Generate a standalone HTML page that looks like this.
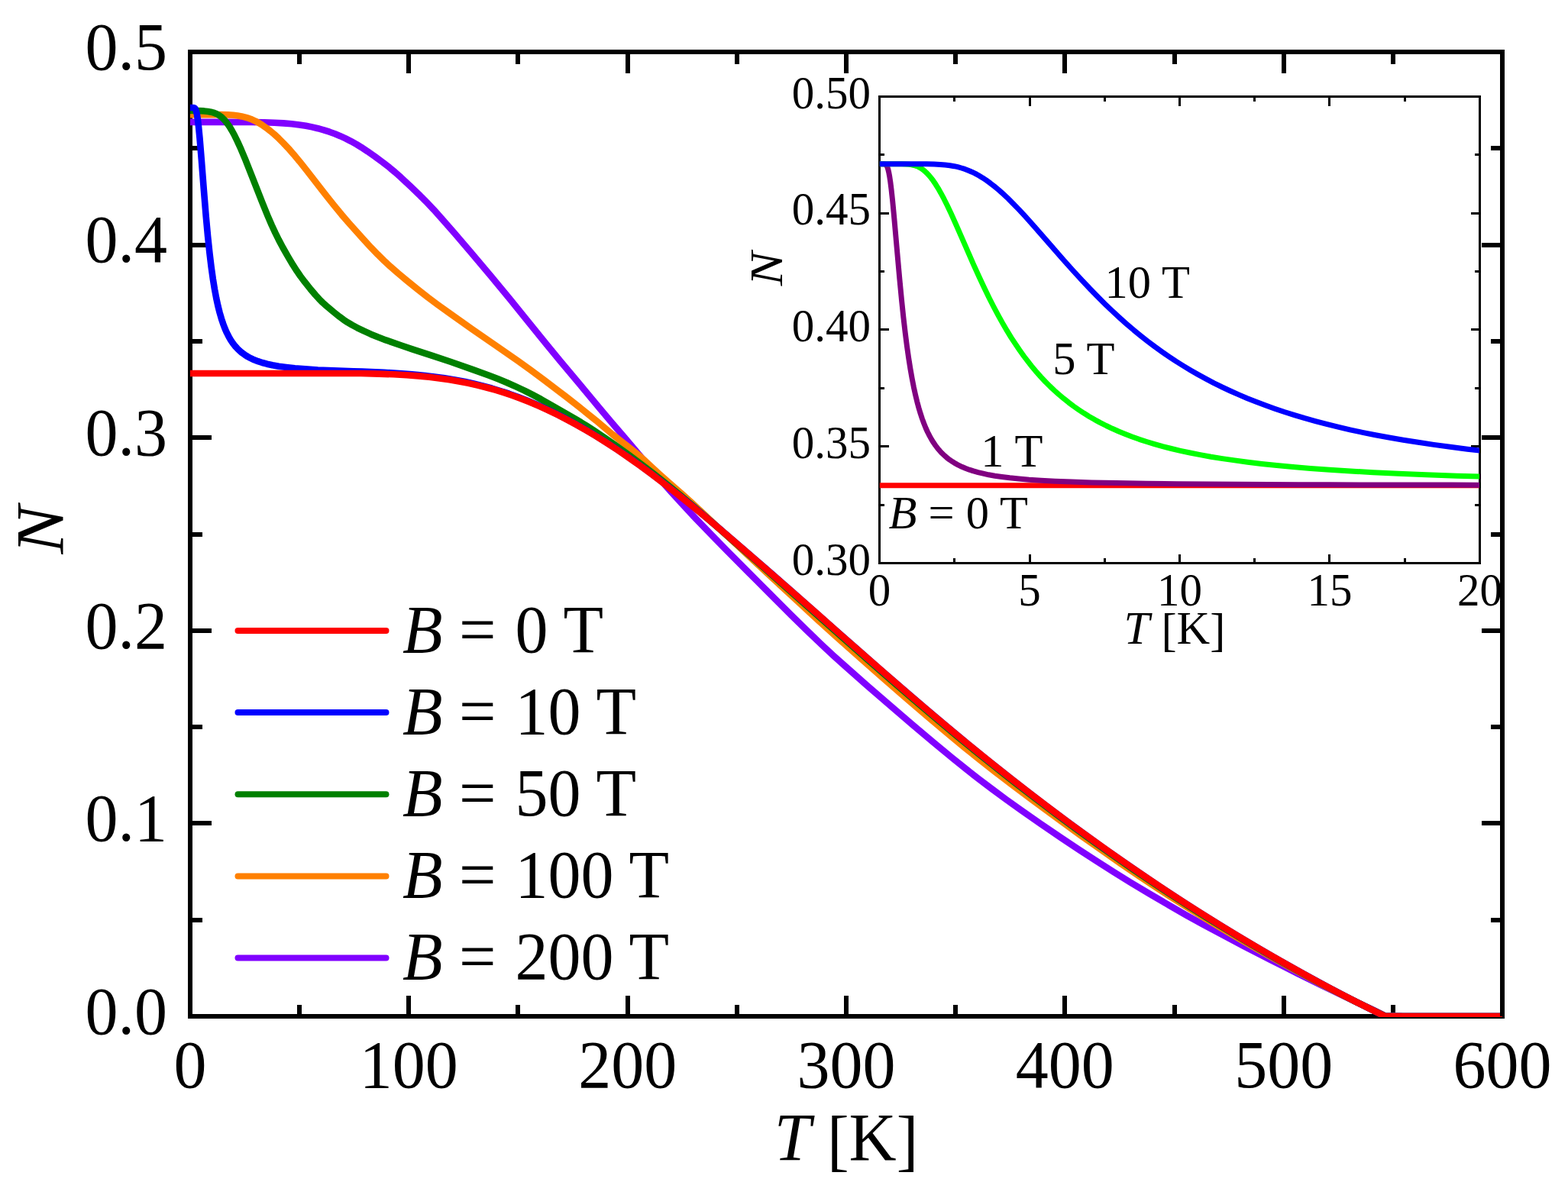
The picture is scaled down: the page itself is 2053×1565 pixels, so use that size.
<!DOCTYPE html>
<html lang="en"><head><meta charset="utf-8"><title>N versus T for several magnetic fields B</title>
<style>html,body{margin:0;padding:0;background:#fff}body{width:2053px;height:1565px;overflow:hidden}svg{display:block}text{font-family:"Liberation Serif",serif;fill:#000}.i{font-style:italic}</style></head><body>
<svg width="2053" height="1565" viewBox="0 0 2053 1565">
<rect width="2053" height="1565" fill="#fff"/>
<defs><clipPath id="cm"><rect x="249" y="60" width="1719" height="1272"/></clipPath><clipPath id="ci"><rect x="1151.5" y="120" width="785.5" height="618"/></clipPath></defs>
<g stroke="#000" stroke-width="6" fill="none" shape-rendering="crispEdges">
<rect x="249" y="68" width="1718" height="1263"/>
</g>
<g stroke="#000" stroke-width="6" fill="none" shape-rendering="crispEdges">
<path d="M392 1331 V1315.5 M392 68 V83.5"/>
<path d="M535 1331 V1303.5 M535 68 V95.5"/>
<path d="M678 1331 V1315.5 M678 68 V83.5"/>
<path d="M822 1331 V1303.5 M822 68 V95.5"/>
<path d="M965 1331 V1315.5 M965 68 V83.5"/>
<path d="M1108 1331 V1303.5 M1108 68 V95.5"/>
<path d="M1251 1331 V1315.5 M1251 68 V83.5"/>
<path d="M1394 1331 V1303.5 M1394 68 V95.5"/>
<path d="M1538 1331 V1315.5 M1538 68 V83.5"/>
<path d="M1681 1331 V1303.5 M1681 68 V95.5"/>
<path d="M1824 1331 V1315.5 M1824 68 V83.5"/>
<path d="M249 1205 H264.5 M1967 1205 H1951.5"/>
<path d="M249 1078 H276.5 M1967 1078 H1939.5"/>
<path d="M249 952 H264.5 M1967 952 H1951.5"/>
<path d="M249 826 H276.5 M1967 826 H1939.5"/>
<path d="M249 700 H264.5 M1967 700 H1951.5"/>
<path d="M249 573 H276.5 M1967 573 H1939.5"/>
<path d="M249 447 H264.5 M1967 447 H1951.5"/>
<path d="M249 321 H276.5 M1967 321 H1939.5"/>
<path d="M249 194 H264.5 M1967 194 H1951.5"/>
</g>
<polyline clip-path="url(#cm)" fill="none" stroke="#8000ff" stroke-width="8.6" stroke-linejoin="round" points="249.0,159.9 288.9,159.9 328.8,160.0 346.0,160.2 359.3,160.7 371.2,161.4 382.0,162.3 391.8,163.5 400.5,164.8 408.5,166.4 416.3,168.2 424.0,170.3 431.4,172.7 438.5,175.3 445.5,178.2 452.5,181.4 459.7,185.1 467.2,189.3 472.8,192.7 481.3,198.3 490.9,205.0 501.2,212.6 509.7,219.2 517.1,225.4 524.9,232.3 537.3,243.9 550.3,256.4 559.1,265.3 568.0,274.7 579.3,287.3 595.2,305.5 617.0,331.0 642.7,361.6 667.5,391.6 689.7,419.0 714.8,450.0 733.9,473.2 759.5,503.8 785.0,534.5 799.1,551.2 818.0,573.4 843.8,603.9 864.6,628.1 878.7,644.2 891.9,658.7 909.2,677.2 930.9,699.8 951.4,720.8 979.6,749.1 1007.8,777.4 1036.0,805.6 1057.2,826.4 1075.0,843.5 1090.9,858.3 1107.0,872.8 1135.2,897.7 1165.3,923.8 1195.5,949.7 1223.1,973.0 1247.3,993.0 1264.9,1007.2 1281.4,1020.1 1298.8,1033.3 1317.5,1047.1 1338.0,1061.7 1361.6,1078.2 1390.4,1097.9 1413.3,1113.2 1434.9,1127.2 1457.2,1141.4 1480.5,1155.8 1505.0,1170.5 1530.6,1185.5 1553.1,1198.4 1575.3,1210.7 1599.7,1223.8 1627.8,1238.6 1663.3,1256.8 1698.9,1274.8 1730.9,1290.6 1763.5,1306.4 1799.6,1323.4 1811.7,1329.4 1813.5,1330.3 1835.4,1330.9 1856.5,1331.0 1896.4,1331.0 1936.4,1331.0 1967.0,1331.0"/>
<polyline clip-path="url(#cm)" fill="none" stroke="#ff8000" stroke-width="8.6" stroke-linejoin="round" points="249.0,150.1 288.9,150.1 298.4,150.4 305.3,150.8 311.1,151.5 316.4,152.4 321.2,153.6 325.7,154.9 330.0,156.6 334.4,158.6 338.9,161.0 343.6,163.9 348.6,167.4 353.9,171.5 359.3,176.0 364.9,181.2 370.9,187.2 377.5,194.2 384.6,202.3 392.2,211.4 401.7,223.4 424.4,252.7 437.5,269.2 447.3,281.1 457.6,293.0 476.3,313.9 485.9,324.3 494.5,333.2 502.8,341.3 511.4,349.3 521.1,357.8 533.2,367.9 547.1,379.1 560.5,389.6 573.2,399.1 589.1,410.5 618.7,431.5 650.2,453.2 678.3,472.7 694.3,484.3 711.8,497.3 741.1,519.5 756.6,531.7 780.5,550.8 791.4,560.0 802.1,569.0 811.1,576.1 827.1,588.6 835.1,595.1 842.3,601.4 853.0,611.4 863.3,620.9 874.1,630.5 892.5,646.4 906.0,658.6 923.9,675.3 953.0,702.7 982.2,729.8 1011.4,757.0 1040.7,784.2 1070.1,811.3 1095.5,834.3 1125.3,860.8 1155.3,887.2 1185.4,913.4 1215.4,939.2 1242.1,961.7 1263.1,979.1 1282.7,994.9 1303.6,1011.3 1326.5,1028.9 1352.5,1048.4 1384.7,1072.1 1415.1,1094.2 1441.8,1113.1 1467.3,1130.9 1491.9,1147.6 1515.6,1163.4 1538.4,1178.2 1560.7,1192.2 1583.6,1206.3 1607.4,1220.6 1632.3,1235.1 1658.5,1250.0 1686.0,1265.3 1712.3,1279.5 1737.1,1292.6 1760.2,1304.5 1780.9,1314.7 1811.7,1329.7 1813.5,1330.6 1839.6,1331.0 1879.5,1331.0 1919.5,1331.0 1959.5,1331.0 1967.0,1331.0"/>
<polyline clip-path="url(#cm)" fill="none" stroke="#008000" stroke-width="8.6" stroke-linejoin="round" points="249.0,145.0 261.0,145.1 267.1,145.4 272.1,146.0 276.2,146.7 279.6,147.6 282.5,148.7 285.2,150.0 287.7,151.6 290.2,153.5 292.7,155.8 295.2,158.6 297.9,162.1 300.8,166.3 303.9,171.5 307.3,177.8 311.1,185.6 315.5,195.3 321.1,208.7 329.3,229.3 343.1,264.5 350.4,282.5 355.7,294.8 360.4,304.9 365.1,314.4 370.5,324.5 377.4,336.6 383.7,347.2 388.6,354.8 393.2,361.5 398.7,368.8 406.5,378.6 413.1,386.4 417.9,391.7 422.3,396.1 427.2,400.5 436.7,408.5 444.6,414.8 450.0,418.8 455.3,422.3 461.2,425.8 467.8,429.3 476.8,433.7 485.6,437.7 494.4,441.3 505.2,445.4 525.6,452.5 539.9,457.3 566.1,465.8 589.8,473.8 619.3,484.1 639.7,491.5 652.1,496.3 663.5,501.0 675.6,506.4 687.3,511.9 698.1,517.4 708.4,522.9 723.8,531.7 756.0,550.3 767.3,557.1 778.1,564.1 792.1,573.5 806.9,583.8 823.3,595.7 839.9,608.1 856.5,620.9 873.4,634.3 890.5,648.3 907.4,662.6 929.2,681.5 959.2,707.8 989.2,734.1 1019.1,760.5 1049.0,787.0 1078.9,813.5 1108.8,840.0 1138.8,866.4 1168.9,892.7 1199.1,918.7 1228.3,943.6 1254.8,965.7 1279.9,986.2 1305.2,1006.5 1330.7,1026.6 1356.4,1046.4 1382.4,1066.0 1408.3,1085.2 1433.8,1103.7 1459.0,1121.6 1484.0,1138.9 1508.8,1155.7 1533.4,1172.0 1556.8,1187.1 1580.3,1202.0 1604.3,1216.7 1628.8,1231.4 1653.9,1246.1 1679.6,1260.7 1704.8,1274.7 1729.6,1288.2 1754.0,1301.0 1776.6,1312.6 1805.0,1326.6 1813.5,1330.8 1839.3,1331.0 1879.2,1331.0 1919.2,1331.0 1959.2,1331.0 1967.0,1331.0"/>
<polyline clip-path="url(#cm)" fill="none" stroke="#0000ff" stroke-width="8.6" stroke-linejoin="round" points="249.0,141.0 253.4,141.0 254.3,141.3 255.0,141.7 255.7,142.6 256.3,143.8 257.0,145.9 257.8,149.5 258.8,155.7 260.0,165.5 261.5,181.0 263.8,209.0 266.8,247.9 269.7,283.4 272.1,309.5 274.4,331.3 276.6,349.5 278.8,365.2 281.0,378.7 283.2,390.5 285.4,400.6 287.6,409.4 289.9,417.3 292.2,424.2 294.6,430.5 297.0,435.9 299.5,440.8 302.1,445.3 304.8,449.3 307.6,453.0 310.5,456.2 313.6,459.3 316.9,462.1 320.4,464.6 324.2,467.0 328.3,469.2 332.8,471.3 337.8,473.2 343.4,475.0 349.7,476.7 356.8,478.2 365.0,479.7 374.7,481.0 386.1,482.3 399.7,483.4 416.2,484.5 436.7,485.4 462.9,486.2 474.1,486.6 502.8,487.8 522.6,489.0 539.5,490.3 554.7,491.7 568.8,493.4 582.3,495.3 595.3,497.4 607.9,499.8 620.1,502.5 632.0,505.4 643.7,508.5 655.1,512.0 666.4,515.7 677.8,519.8 689.4,524.3 701.2,529.2 713.2,534.6 725.4,540.4 737.8,546.7 750.4,553.4 763.2,560.6 776.3,568.3 789.7,576.6 803.3,585.4 817.2,594.8 831.7,604.9 846.9,616.0 863.0,628.1 880.1,641.4 898.6,656.2 919.0,672.9 942.3,692.5 971.3,717.4 1001.4,743.5 1031.4,769.8 1061.3,796.2 1091.2,822.6 1121.1,849.0 1151.1,875.4 1181.2,901.6 1211.5,927.6 1239.6,951.4 1265.5,972.9 1291.2,993.8 1316.8,1014.2 1342.3,1034.2 1367.7,1053.6 1393.1,1072.7 1418.4,1091.3 1443.6,1109.4 1468.7,1127.1 1493.8,1144.3 1518.8,1161.2 1543.7,1177.5 1568.6,1193.5 1593.5,1209.1 1618.4,1224.4 1643.3,1239.2 1668.2,1253.7 1693.1,1267.8 1718.0,1281.6 1742.9,1295.0 1767.8,1308.0 1792.7,1320.7 1813.5,1331.0 1853.4,1331.0 1893.4,1331.0 1933.4,1331.0 1967.0,1331.0"/>
<polyline clip-path="url(#cm)" fill="none" stroke="#ff0000" stroke-width="8.6" stroke-linejoin="round" points="249.0,489.0 289.0,489.0 329.0,489.0 369.0,489.0 409.0,489.0 449.0,489.0 472.6,489.0 496.5,489.6 515.6,490.3 532.4,491.3 547.7,492.4 561.9,493.8 575.4,495.4 588.4,497.3 601.0,499.5 613.3,501.9 625.3,504.6 637.0,507.5 648.5,510.7 659.8,514.2 671.1,518.0 682.5,522.2 694.1,526.8 705.9,531.9 717.9,537.3 730.1,543.2 742.5,549.6 755.1,556.4 768.0,563.8 781.1,571.6 794.5,580.0 808.2,589.0 822.2,598.6 836.9,609.0 852.3,620.3 868.7,632.8 886.2,646.5 905.2,661.8 926.4,679.3 951.0,700.1 981.3,726.2 1011.4,752.4 1041.4,778.8 1071.3,805.1 1101.2,831.6 1131.2,858.0 1161.2,884.3 1191.4,910.5 1221.6,936.3 1248.8,959.1 1274.6,980.4 1300.3,1001.1 1325.9,1021.4 1351.4,1041.2 1376.8,1060.5 1402.1,1079.4 1427.4,1097.8 1452.6,1115.8 1477.7,1133.3 1502.7,1150.4 1527.7,1167.1 1552.6,1183.3 1577.5,1199.1 1602.4,1214.6 1627.3,1229.7 1652.2,1244.4 1677.1,1258.8 1702.0,1272.8 1726.9,1286.4 1751.8,1299.7 1776.7,1312.6 1801.6,1325.1 1813.5,1331.0 1853.4,1331.0 1893.4,1331.0 1933.4,1331.0 1967.0,1331.0"/>
<g font-size="86">
<text transform="translate(249 1424) scale(1 1.022)" text-anchor="middle">0</text>
<text transform="translate(535.333 1424) scale(1 1.022)" text-anchor="middle">100</text>
<text transform="translate(821.667 1424) scale(1 1.022)" text-anchor="middle">200</text>
<text transform="translate(1108 1424) scale(1 1.022)" text-anchor="middle">300</text>
<text transform="translate(1394.33 1424) scale(1 1.022)" text-anchor="middle">400</text>
<text transform="translate(1680.67 1424) scale(1 1.022)" text-anchor="middle">500</text>
<text transform="translate(1967 1424) scale(1 1.022)" text-anchor="middle">600</text>
<text transform="translate(219 1353.8) scale(1 1.022)" text-anchor="end">0.0</text>
<text transform="translate(219 1101.2) scale(1 1.022)" text-anchor="end">0.1</text>
<text transform="translate(219 848.6) scale(1 1.022)" text-anchor="end">0.2</text>
<text transform="translate(219 596) scale(1 1.022)" text-anchor="end">0.3</text>
<text transform="translate(219 343.4) scale(1 1.022)" text-anchor="end">0.4</text>
<text transform="translate(219 90.8) scale(1 1.022)" text-anchor="end">0.5</text>
<text transform="translate(1108 1518.6) scale(1 1.022)" text-anchor="middle"><tspan class="i">T</tspan> <tspan dy="4">[</tspan><tspan dy="-4">K</tspan><tspan dy="4">]</tspan></text>
<text class="i" text-anchor="middle" transform="translate(81.5 694) rotate(-90) scale(1.1 1.022)">N</text>
</g>
<g stroke-width="8" stroke-linecap="round" fill="none">
<path stroke="#ff0000" d="M311.5 826.0 H505.5"/>
<path stroke="#0000ff" d="M311.5 933.1 H505.5"/>
<path stroke="#008000" d="M311.5 1040.3 H505.5"/>
<path stroke="#ff8000" d="M311.5 1147.5 H505.5"/>
<path stroke="#8000ff" d="M311.5 1254.6 H505.5"/>
</g><g font-size="86">
<text transform="translate(527 853.5) scale(1 1.022)"><tspan class="i">B</tspan> <tspan letter-spacing="3.5">=</tspan> 0 T</text>
<text transform="translate(527 960.6) scale(1 1.022)"><tspan class="i">B</tspan> <tspan letter-spacing="3.5">=</tspan> 10 T</text>
<text transform="translate(527 1067.8) scale(1 1.022)"><tspan class="i">B</tspan> <tspan letter-spacing="3.5">=</tspan> 50 T</text>
<text transform="translate(527 1175) scale(1 1.022)"><tspan class="i">B</tspan> <tspan letter-spacing="3.5">=</tspan> 100 T</text>
<text transform="translate(527 1282.1) scale(1 1.022)"><tspan class="i">B</tspan> <tspan letter-spacing="3.5">=</tspan> 200 T</text>
</g>
<g stroke="#000" stroke-width="3" fill="none" shape-rendering="crispEdges">
<rect x="1151.5" y="126.5" width="786" height="611"/>
</g>
<g stroke="#000" stroke-width="3" fill="none" shape-rendering="crispEdges">
<path d="M1249.5 737.5 V731 M1249.5 126.5 V133"/>
<path d="M1348.5 737.5 V725.5 M1348.5 126.5 V138.5"/>
<path d="M1446.5 737.5 V731 M1446.5 126.5 V133"/>
<path d="M1544.5 737.5 V725.5 M1544.5 126.5 V138.5"/>
<path d="M1642.5 737.5 V731 M1642.5 126.5 V133"/>
<path d="M1740.5 737.5 V725.5 M1740.5 126.5 V138.5"/>
<path d="M1839.5 737.5 V731 M1839.5 126.5 V133"/>
<path d="M1151.5 661.5 H1158 M1937.5 661.5 H1931"/>
<path d="M1151.5 584.5 H1163.5 M1937.5 584.5 H1925.5"/>
<path d="M1151.5 508.5 H1158 M1937.5 508.5 H1931"/>
<path d="M1151.5 431.5 H1163.5 M1937.5 431.5 H1925.5"/>
<path d="M1151.5 355.5 H1158 M1937.5 355.5 H1931"/>
<path d="M1151.5 279.5 H1163.5 M1937.5 279.5 H1925.5"/>
<path d="M1151.5 202.5 H1158 M1937.5 202.5 H1931"/>
</g>
<polyline clip-path="url(#ci)" fill="none" stroke="#ff0000" stroke-width="7" stroke-linejoin="round" points="1151.5,635.7 1191.5,635.7 1231.5,635.7 1271.5,635.7 1311.5,635.7 1351.5,635.7 1391.5,635.7 1431.5,635.7 1471.5,635.7 1511.5,635.7 1551.5,635.7 1591.5,635.7 1631.5,635.7 1671.5,635.7 1711.5,635.7 1751.5,635.7 1791.5,635.7 1831.5,635.7 1871.5,635.7 1911.5,635.7 1937.5,635.7"/>
<polyline clip-path="url(#ci)" fill="none" stroke="#800080" stroke-width="7" stroke-linejoin="round" points="1151.5,214.8 1157.3,214.8 1158.4,215.0 1159.2,215.3 1159.9,215.8 1160.6,216.6 1161.3,217.7 1162.0,219.3 1162.8,221.9 1163.7,225.6 1164.7,231.0 1165.8,238.3 1167.1,248.6 1168.7,263.5 1170.9,286.8 1174.3,325.5 1177.8,364.8 1180.5,392.9 1182.9,415.8 1185.2,435.6 1187.5,453.6 1189.7,469.0 1191.9,482.9 1194.1,495.4 1196.3,506.7 1198.5,516.7 1200.7,525.8 1202.9,534.0 1205.2,541.7 1207.5,548.6 1209.8,554.8 1212.2,560.7 1214.6,566.0 1217.1,570.9 1219.6,575.4 1222.2,579.6 1224.9,583.5 1227.7,587.2 1230.6,590.6 1233.6,593.8 1236.7,596.7 1240.0,599.6 1243.4,602.2 1247.0,604.6 1250.8,606.9 1254.9,609.2 1259.3,611.3 1264.0,613.3 1269.1,615.2 1274.6,616.9 1280.6,618.6 1287.2,620.2 1294.5,621.8 1302.6,623.2 1311.7,624.5 1322.1,625.8 1333.9,627.0 1347.4,628.2 1363.0,629.2 1381.3,630.2 1403.0,631.1 1429.2,631.9 1461.4,632.6 1501.3,633.3 1541.2,633.8 1581.1,634.1 1621.0,634.3 1660.9,634.5 1700.8,634.7 1740.7,634.8 1780.6,634.9 1820.5,635.0 1860.4,635.1 1900.3,635.1 1937.5,635.2"/>
<polyline clip-path="url(#ci)" fill="none" stroke="#00ff00" stroke-width="7" stroke-linejoin="round" points="1151.5,214.8 1180.5,214.8 1186.1,215.0 1190.2,215.3 1193.6,215.8 1196.7,216.5 1199.6,217.4 1201.4,218.0 1203.9,219.3 1206.3,220.7 1208.7,222.4 1211.2,224.5 1213.7,226.8 1216.3,229.6 1219.0,232.9 1221.9,236.7 1225.0,241.3 1228.3,246.6 1231.9,252.9 1235.8,260.2 1240.2,269.0 1245.3,279.8 1251.8,294.2 1263.7,321.4 1274.6,346.3 1282.3,363.3 1289.1,377.8 1295.4,390.7 1301.4,402.5 1307.2,413.4 1312.9,423.6 1318.5,433.2 1324.1,442.3 1329.6,450.7 1335.1,458.8 1340.6,466.5 1346.1,473.7 1351.7,480.8 1357.3,487.4 1363.0,493.8 1368.8,500.0 1374.7,505.9 1380.6,511.5 1386.7,516.9 1392.9,522.1 1399.2,527.1 1405.7,532.0 1412.3,536.6 1419.1,541.1 1426.1,545.4 1433.3,549.6 1440.7,553.6 1448.4,557.5 1456.4,561.3 1464.7,565.0 1473.3,568.5 1482.3,572.0 1491.6,575.3 1501.4,578.5 1511.6,581.6 1522.3,584.6 1533.6,587.5 1545.5,590.3 1558.1,593.0 1571.4,595.6 1585.5,598.2 1600.5,600.6 1616.5,602.9 1633.6,605.2 1651.9,607.4 1671.6,609.5 1692.8,611.5 1715.8,613.4 1740.8,615.2 1768.1,617.0 1798.0,618.7 1830.9,620.3 1867.4,621.8 1907.3,623.2 1937.5,624.1"/>
<polyline clip-path="url(#ci)" fill="none" stroke="#0000ff" stroke-width="7" stroke-linejoin="round" points="1151.5,214.8 1191.4,214.8 1213.0,214.8 1223.1,215.1 1230.9,215.4 1237.6,216.0 1243.7,216.7 1249.4,217.7 1254.0,218.7 1258.7,220.0 1263.3,221.4 1267.9,223.2 1272.5,225.2 1277.1,227.4 1281.8,230.0 1286.6,232.9 1291.5,236.2 1296.6,239.9 1301.9,244.0 1307.5,248.6 1313.4,253.9 1319.7,259.8 1326.6,266.7 1334.3,274.6 1343.1,284.1 1354.0,296.3 1371.7,316.6 1392.3,340.2 1405.5,355.0 1416.9,367.4 1427.4,378.5 1437.4,388.8 1447.1,398.4 1456.6,407.5 1465.9,416.1 1475.1,424.3 1484.3,432.2 1493.5,439.7 1502.7,446.9 1511.9,453.9 1521.2,460.6 1530.6,467.1 1540.1,473.4 1549.7,479.4 1559.4,485.2 1569.3,490.9 1579.4,496.4 1589.7,501.8 1600.2,507.0 1610.9,512.0 1621.9,516.9 1633.2,521.7 1644.8,526.3 1656.7,530.8 1669.0,535.2 1681.7,539.5 1694.8,543.6 1708.3,547.7 1722.3,551.6 1736.8,555.4 1751.9,559.1 1767.6,562.8 1783.9,566.3 1800.9,569.7 1818.7,573.0 1837.3,576.2 1856.8,579.3 1877.2,582.4 1898.7,585.3 1921.3,588.2 1937.5,590.1"/>
<g font-size="59">
<text transform="translate(1151.5 793.3) scale(1 1.022)" text-anchor="middle">0</text>
<text transform="translate(1348 793.3) scale(1 1.022)" text-anchor="middle">5</text>
<text transform="translate(1544.5 793.3) scale(1 1.022)" text-anchor="middle">10</text>
<text transform="translate(1741 793.3) scale(1 1.022)" text-anchor="middle">15</text>
<text transform="translate(1937.5 793.3) scale(1 1.022)" text-anchor="middle">20</text>
<text transform="translate(1140 752.7) scale(1 1.022)" text-anchor="end">0.30</text>
<text transform="translate(1140 600) scale(1 1.022)" text-anchor="end">0.35</text>
<text transform="translate(1140 447.2) scale(1 1.022)" text-anchor="end">0.40</text>
<text transform="translate(1140 294.4) scale(1 1.022)" text-anchor="end">0.45</text>
<text transform="translate(1140 141.7) scale(1 1.022)" text-anchor="end">0.50</text>
</g><g font-size="60.5">
<text transform="translate(1538 843) scale(1 1.022)" text-anchor="middle"><tspan class="i">T</tspan> <tspan dy="3">[</tspan><tspan dy="-3">K</tspan><tspan dy="3">]</tspan></text>
<text class="i" text-anchor="middle" transform="translate(1024 352) rotate(-90) scale(1.1 1.022)">N</text>
<text transform="translate(1446.4 390) scale(1 1.022)">10 T</text>
<text transform="translate(1378.2 489.7) scale(1 1.022)">5 T</text>
<text transform="translate(1284.2 610.5) scale(1 1.022)">1 T</text>
<text transform="translate(1163.4 692) scale(1 1.022)"><tspan class="i">B</tspan> = 0 T</text>
</g>
<path d="M1967 68 V1331" stroke="#000" stroke-width="6" fill="none" shape-rendering="crispEdges"/>
</svg></body></html>
